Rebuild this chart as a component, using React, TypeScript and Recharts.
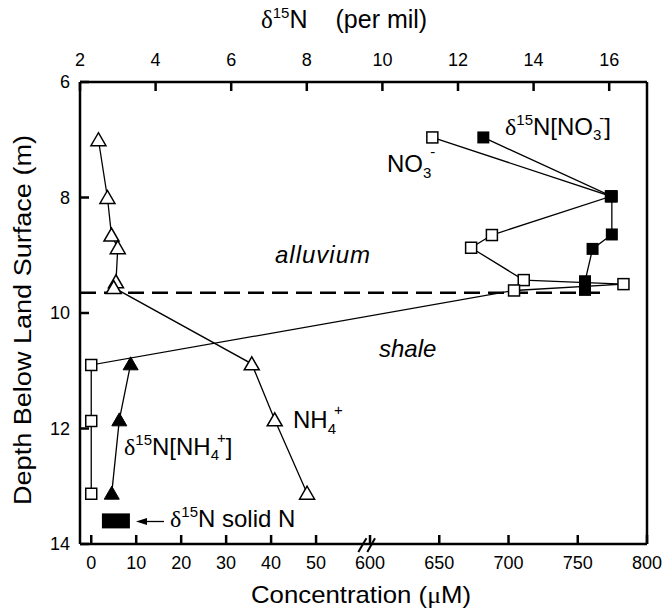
import React from 'react';
import { ScatterChart, Scatter, XAxis, YAxis, ReferenceLine } from 'recharts';

// depth (m) ticks
const depthTicks = [6, 8, 10, 12, 14];
const depthRightTicks = [7, 8, 9, 10, 11, 12, 13];
// top axis: delta 15N (per mil)
const d15nTicks = [2, 4, 6, 8, 10, 12, 14, 16];
// bottom axis: concentration (uM), broken between 62 and 600
const concTicks = [0, 10, 20, 30, 40, 50, 600, 650, 700, 750, 800];

// NH4+ concentration (open triangles)
const nh4Depth = [7.0, 8.0, 8.65, 8.87, 9.46, 9.56, 10.88, 11.85, 13.12];
const nh4Conc = [1.6, 3.6, 4.5, 5.9, 5.5, 5.0, 35.7, 40.8, 48.0];

// d15N of NH4+ (filled triangles)
const d15nNh4Depth = [10.88, 11.85, 13.12];
const d15nNh4Value = [3.34, 3.04, 2.84];

// NO3- concentration (open squares)
const no3Depth = [6.96, 7.98, 8.65, 8.87, 9.43, 9.5, 9.61, 10.9, 11.87, 13.13];
const no3Conc = [645, 774, 688, 673, 711, 783, 704, 0, 0, 0];

// d15N of NO3- (filled squares)
const d15nNo3Depth = [6.96, 7.98, 8.64, 8.89, 9.45, 9.6];
const d15nNo3Value = [12.67, 16.07, 16.07, 15.56, 15.36, 15.36];

// d15N of solid N
const solidDepth = [13.6];
const solidValue = [2.95];

const boundaryDepth = 9.65;

const FONT = '"Liberation Sans", Arial, Helvetica, sans-serif';
const SERIF = '"Liberation Serif", "Times New Roman", serif';

const BREAK_LO = 62;
const BREAK_HI = 600;
const LEFT_SHARE = 0.5115;

// piecewise linear scale with an axis break between BREAK_LO and BREAK_HI
function brokenScale(): any {
  let dom: number[] = [-2.5, 800];
  let rng: number[] = [0, 1];
  const s: any = (v: number) => {
    const [d0, d1] = dom;
    const [r0, r1] = rng;
    const split = r0 + (r1 - r0) * LEFT_SHARE;
    if (v <= BREAK_LO) return r0 + ((v - d0) / (BREAK_LO - d0)) * (split - r0);
    if (v >= BREAK_HI) return split + ((v - BREAK_HI) / (d1 - BREAK_HI)) * (r1 - split);
    return split;
  };
  s.domain = (d?: number[]) => {
    if (!d) return dom;
    dom = [Number(d[0]), Number(d[d.length - 1])];
    return s;
  };
  s.range = (r?: number[]) => {
    if (!r) return rng;
    rng = [Number(r[0]), Number(r[r.length - 1])];
    return s;
  };
  s.copy = () => brokenScale().domain(dom).range(rng);
  s.ticks = () => concTicks;
  s.tickFormat = () => (v: number) => String(v);
  return s;
}

const toPoints = (xs: number[], ys: number[]) => xs.map((x, i) => ({ x, y: ys[i] }));

const openTriangle = (p: any) => (
  <polygon
    points={`${p.cx},${p.cy - 7} ${p.cx - 7.5},${p.cy + 6} ${p.cx + 7.5},${p.cy + 6}`}
    fill="#fff"
    stroke="#000"
    strokeWidth={1.5}
  />
);
const filledTriangle = (p: any) => (
  <polygon
    points={`${p.cx},${p.cy - 7} ${p.cx - 7.5},${p.cy + 6} ${p.cx + 7.5},${p.cy + 6}`}
    fill="#000"
    stroke="#000"
    strokeWidth={1}
  />
);
const openSquare = (p: any) => (
  <rect x={p.cx - 5.5} y={p.cy - 5.5} width={11} height={11} fill="#fff" stroke="#000" strokeWidth={1.5} />
);
const filledSquare = (p: any) => (
  <rect x={p.cx - 6} y={p.cy - 6} width={12} height={12} fill="#000" />
);
const solidBlock = (p: any) => <rect x={p.cx - 14} y={p.cy - 7.5} width={28} height={15} fill="#000" />;

const axisLine = { stroke: '#000', strokeWidth: 2.5 };
const tickLine = { stroke: '#000', strokeWidth: 2.5 };
const tickStyle = { fill: '#000', fontSize: 18, fontFamily: FONT };
const lineStyle = { stroke: '#000', strokeWidth: 1.3 };

export default function App() {
  return (
    <div style={{ position: 'absolute', left: 0, top: 0, width: 664, height: 612, background: '#fff' }}>
      <ScatterChart width={664} height={612} margin={{ top: 0, right: 0, bottom: 0, left: 0 }}>
        <XAxis
          xAxisId="d15n"
          orientation="top"
          type="number"
          dataKey="x"
          domain={[2, 17]}
          ticks={d15nTicks}
          height={82}
          axisLine={axisLine}
          tickLine={tickLine}
          tickSize={-9}
          tickMargin={25}
          tick={tickStyle}
          allowDataOverflow
        />
        <XAxis
          xAxisId="conc"
          orientation="bottom"
          type="number"
          dataKey="x"
          scale={brokenScale()}
          domain={[-2.5, 800]}
          ticks={concTicks}
          height={68}
          axisLine={axisLine}
          tickLine={tickLine}
          tickSize={-9}
          tickMargin={21}
          tick={tickStyle}
          allowDataOverflow
        />
        <YAxis
          yAxisId="depth"
          orientation="left"
          type="number"
          dataKey="y"
          reversed
          domain={[6, 14]}
          ticks={depthTicks}
          width={80}
          axisLine={axisLine}
          tickLine={tickLine}
          tickSize={-9}
          tickMargin={19}
          tick={tickStyle}
          allowDataOverflow
        />
        <YAxis
          yAxisId="depthR"
          orientation="right"
          type="number"
          dataKey="y"
          reversed
          domain={[6, 14]}
          ticks={depthRightTicks}
          width={17}
          axisLine={axisLine}
          tickLine={tickLine}
          tickSize={-9}
          tick={false}
          allowDataOverflow
        />

        <ReferenceLine
          xAxisId="d15n"
          yAxisId="depth"
          segment={[
            { x: 2, y: boundaryDepth },
            { x: 15.95, y: boundaryDepth },
          ]}
          stroke="#000"
          strokeWidth={2.5}
          strokeDasharray="16 8"
        />

        <Scatter
          name="NH4+"
          data={toPoints(nh4Conc, nh4Depth)}
          xAxisId="conc"
          yAxisId="depth"
          line={lineStyle}
          shape={openTriangle}
          isAnimationActive={false}
        />
        <Scatter
          name="NO3-"
          data={toPoints(no3Conc, no3Depth)}
          xAxisId="conc"
          yAxisId="depth"
          line={lineStyle}
          shape={openSquare}
          isAnimationActive={false}
        />
        <Scatter
          name="d15N NH4+"
          data={toPoints(d15nNh4Value, d15nNh4Depth)}
          xAxisId="d15n"
          yAxisId="depth"
          line={lineStyle}
          shape={filledTriangle}
          isAnimationActive={false}
        />
        <Scatter
          name="d15N NO3-"
          data={toPoints(d15nNo3Value, d15nNo3Depth)}
          xAxisId="d15n"
          yAxisId="depth"
          line={lineStyle}
          shape={filledSquare}
          isAnimationActive={false}
        />
        <Scatter
          name="d15N solid N"
          data={toPoints(solidValue, solidDepth)}
          xAxisId="d15n"
          yAxisId="depth"
          shape={solidBlock}
          isAnimationActive={false}
        />

        {/* axis break marks */}
        <ReferenceLine
          xAxisId="conc"
          yAxisId="depth"
          segment={[
            { x: 59.4, y: 14.14 },
            { x: 61.2, y: 13.9 },
          ]}
          stroke="#000"
          strokeWidth={2}
          ifOverflow="visible"
        />
        <ReferenceLine
          xAxisId="conc"
          yAxisId="depth"
          segment={[
            { x: 61.4, y: 14.14 },
            { x: 603.6, y: 13.9 },
          ]}
          stroke="#000"
          strokeWidth={2}
          ifOverflow="visible"
        />

        {/* titles and annotations */}
        <g fontFamily={FONT} fill="#000">
          <text x={261} y={28} fontSize={25}>
            <tspan fontFamily={SERIF}>δ</tspan>
            <tspan fontSize={15} dy={-10}>15</tspan>
            <tspan dy={10}>N</tspan>
            <tspan dx={28}>(per mil)</tspan>
          </text>
          <text x={251} y={603} fontSize={24} textLength={220} lengthAdjust="spacingAndGlyphs">
            Concentration (<tspan fontFamily={SERIF}>μ</tspan>M)
          </text>
          <text
            transform="translate(31,320) rotate(-90)"
            fontSize={23}
            textAnchor="middle"
            textLength={370}
            lengthAdjust="spacingAndGlyphs"
          >
            Depth Below Land Surface (m)
          </text>

          <text x={505} y={135} fontSize={24}>
            <tspan fontFamily={SERIF}>δ</tspan>
            <tspan fontSize={15} dy={-10}>15</tspan>
            <tspan dy={10}>N[NO</tspan>
            <tspan fontSize={15} dy={5}>3</tspan>
            <tspan fontSize={15} dx={-2} dy={-17}>-</tspan>
            <tspan dy={12}>]</tspan>
          </text>
          <text x={387} y={172} fontSize={24}>
            NO
            <tspan fontSize={15} dy={6}>3</tspan>
            <tspan fontSize={15} dx={-1} dy={-21}>-</tspan>
          </text>
          <text x={275} y={263} fontSize={24} fontStyle="italic" letterSpacing={1}>
            alluvium
          </text>
          <text x={379} y={357} fontSize={24} fontStyle="italic">
            shale
          </text>
          <text x={293} y={428} fontSize={24}>
            NH
            <tspan fontSize={15} dy={6}>4</tspan>
            <tspan fontSize={15} dx={-2} dy={-19}>+</tspan>
          </text>
          <text x={124} y={455} fontSize={24}>
            <tspan fontFamily={SERIF}>δ</tspan>
            <tspan fontSize={15} dy={-10}>15</tspan>
            <tspan dy={10}>N[NH</tspan>
            <tspan fontSize={15} dy={5}>4</tspan>
            <tspan fontSize={15} dx={-2} dy={-17}>+</tspan>
            <tspan dy={12}>]</tspan>
          </text>
          <text x={170} y={527} fontSize={24}>
            <tspan fontFamily={SERIF}>δ</tspan>
            <tspan fontSize={15} dy={-10}>15</tspan>
            <tspan dy={10}>N solid N</tspan>
          </text>
          <line x1={146} y1={521.5} x2={164} y2={521.5} stroke="#000" strokeWidth={1.3} />
          <polygon points="136,521.5 147,518 147,525" fill="#000" />
        </g>
      </ScatterChart>
    </div>
  );
}
